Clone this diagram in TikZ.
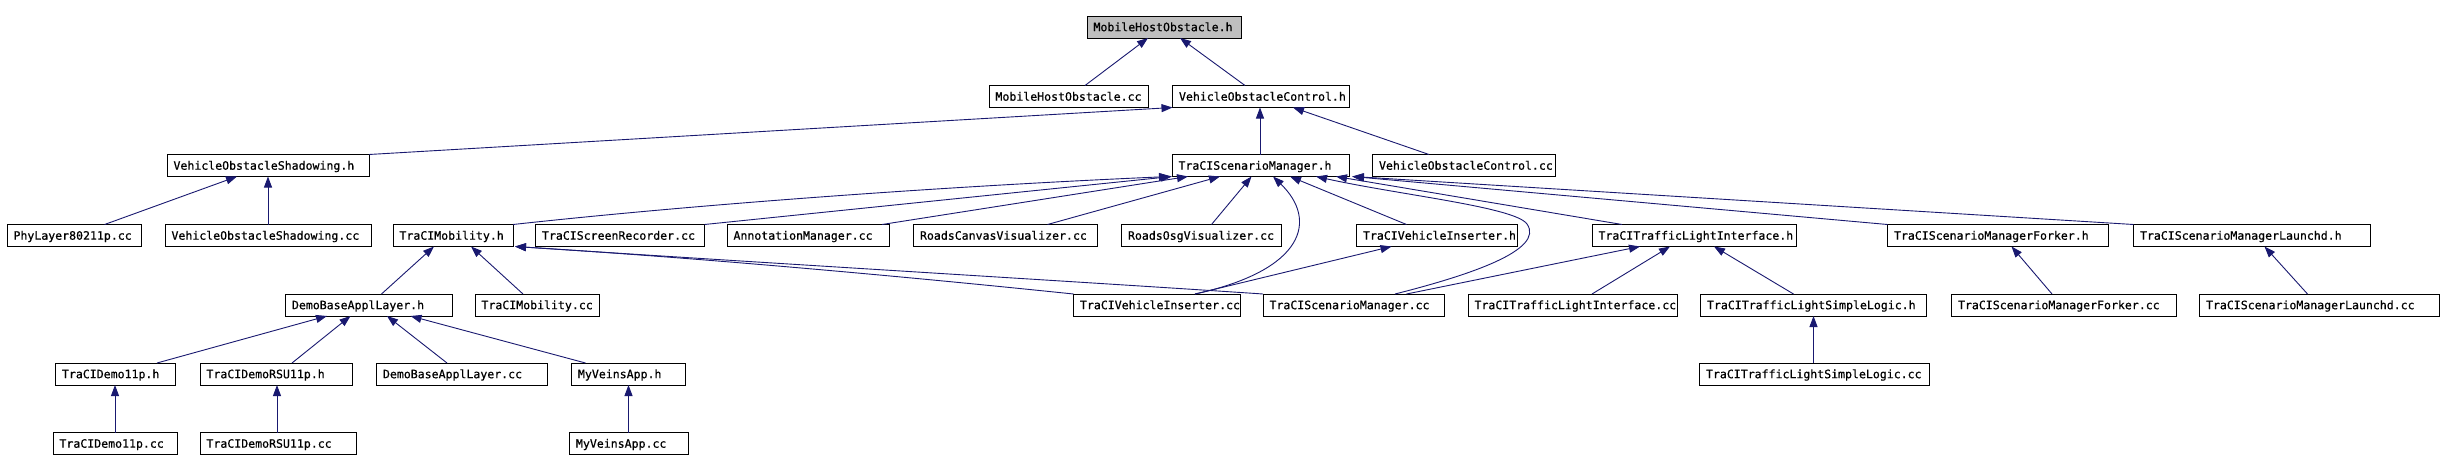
\documentclass[tikz,border=0pt]{standalone}
\usepackage{fontspec}
\newfontfamily\depfont[FakeBold=0.6]{DejaVu Sans Mono}
\usetikzlibrary{arrows.meta}
\definecolor{edgecol}{HTML}{191970}
\definecolor{rootfill}{HTML}{BFBFBF}
\tikzset{
 filebox/.style={draw=black, line width=1pt, rectangle, inner xsep=6.5pt, inner ysep=6.8pt, outer sep=0pt, text height=8.4pt, text depth=0pt, anchor=west, font=\depfont\fontsize{11.55pt}{13pt}\selectfont},
 dep/.style={draw=edgecol, line width=0.9pt, -{Triangle[length=11pt,width=8pt]}},
}
\newcommand\filenode[6][]{\node[filebox,#1] (#2) at (#3,#4) {\makebox[\dimexpr#5pt-13pt\relax][l]{#6}};}
\newcommand\depline[4]{\draw[dep] ([xshift=#2pt]#1.north west) -- ([xshift=#4pt]#3.south west);}
\begin{document}
\begin{tikzpicture}[x=1pt,y=-1pt]
\fill[white] (0,0) rectangle (2444,471);
\useasboundingbox (0,0) rectangle (2444,471);
% row 1
\filenode[fill=rootfill]{mhoh}{1087}{27}{154}{MobileHostObstacle.h}
% row 2
\filenode{mhocc}{989}{96.5}{159}{MobileHostObstacle.cc}
\filenode{voch}{1172.5}{96.5}{176.5}{VehicleObstacleControl.h}
% row 3
\filenode{vosh}{167}{165.5}{202}{VehicleObstacleShadowing.h}
\filenode{tsmh}{1172}{165.5}{177}{TraCIScenarioManager.h}
\filenode{voccc}{1372.5}{165.5}{183}{VehicleObstacleControl.cc}
% row 4
\filenode{phy}{7}{235.5}{134}{PhyLayer80211p.cc}
\filenode{voscc}{165}{235.5}{206}{VehicleObstacleShadowing.cc}
\filenode{tmh}{393}{235.5}{120}{TraCIMobility.h}
\filenode{tsr}{535.5}{235.5}{169}{TraCIScreenRecorder.cc}
\filenode{ann}{727}{235.5}{162}{AnnotationManager.cc}
\filenode{rcv}{913.5}{235.5}{183.5}{RoadsCanvasVisualizer.cc}
\filenode{rov}{1121.5}{235.5}{159.5}{RoadsOsgVisualizer.cc}
\filenode{tvih}{1356.5}{235.5}{160.5}{TraCIVehicleInserter.h}
\filenode{ttlih}{1592}{235.5}{204.5}{TraCITrafficLightInterface.h}
\filenode{forkh}{1887.5}{235.5}{220.5}{TraCIScenarioManagerForker.h}
\filenode{launh}{2133.5}{235.5}{236.5}{TraCIScenarioManagerLaunchd.h}
% row 5
\filenode{dbalh}{285.5}{305}{166.5}{DemoBaseApplLayer.h}
\filenode{tmcc}{475}{305}{124}{TraCIMobility.cc}
\filenode{tvicc}{1073.5}{305}{166.5}{TraCIVehicleInserter.cc}
\filenode{tsmcc}{1263}{305}{181}{TraCIScenarioManager.cc}
\filenode{ttlicc}{1468}{305}{209}{TraCITrafficLightInterface.cc}
\filenode{ttslh}{1700.5}{305}{226}{TraCITrafficLightSimpleLogic.h}
\filenode{forkcc}{1951.5}{305}{224.5}{TraCIScenarioManagerForker.cc}
\filenode{launcc}{2199.5}{305}{239.5}{TraCIScenarioManagerLaunchd.cc}
% row 6
\filenode{demoh}{55.5}{374}{119.5}{TraCIDemo11p.h}
\filenode{rsuh}{200}{374}{152}{TraCIDemoRSU11p.h}
\filenode{dbalcc}{376.5}{374}{170.5}{DemoBaseApplLayer.cc}
\filenode{mvah}{571.5}{374}{113.5}{MyVeinsApp.h}
\filenode{ttslcc}{1699.5}{374}{229.5}{TraCITrafficLightSimpleLogic.cc}
% row 7
\filenode{democc}{53}{443.5}{124}{TraCIDemo11p.cc}
\filenode{rsucc}{200}{443.5}{156}{TraCIDemoRSU11p.cc}
\filenode{mvacc}{569.5}{443.5}{118.5}{MyVeinsApp.cc}
% edges
\depline{mhocc}{96}{mhoh}{61}
\depline{voch}{72.5}{mhoh}{93}
\depline{vosh}{202}{voch}{0}
\depline{tsmh}{88}{voch}{87.5}
\depline{voccc}{56.5}{voch}{120.5}
\depline{phy}{97.6}{vosh}{70}
\depline{voscc}{103}{vosh}{101}
\draw[dep] (tmh.north east) .. controls (700,204) and (950,186) .. ([xshift=-2pt]tsmh.south west);
\depline{tsr}{169}{tsmh}{0}
\depline{ann}{155}{tsmh}{16}
\depline{rcv}{134}{tsmh}{48}
\depline{rov}{90}{tsmh}{79.5}
\draw[dep] ([xshift=121.5pt]tvicc.north west) .. controls (1305,270) and (1318,220) .. ([xshift=101pt]tsmh.south west);
\depline{tvih}{50}{tsmh}{118}
\draw[dep] ([xshift=132pt]tsmcc.north west) .. controls (1470,275) and (1545,250) .. (1527,224) .. controls (1515,207) and (1400,195) .. ([xshift=144pt]tsmh.south west);
\depline{ttlih}{30}{tsmh}{164}
\depline{forkh}{0}{tsmh}{180}
\depline{launh}{0}{tsmh}{181}
\depline{tmcc}{48}{tmh}{78}
\depline{dbalh}{96}{tmh}{41}
\draw[dep] (tvicc.north west) .. controls (900,276) and (700,258) .. ([xshift=2pt]tmh.south east);
\draw[dep] (tsmcc.north west) .. controls (1100,283) and (750,262) .. ([xshift=2pt]tmh.south east);
\depline{tvicc}{121.5}{tvih}{35}
\depline{tsmcc}{143.5}{ttlih}{48}
\depline{ttlicc}{124}{ttlih}{78}
\depline{ttslh}{93}{ttlih}{122}
\depline{forkcc}{100.5}{forkh}{124}
\depline{launcc}{108}{launh}{131}
\depline{ttslcc}{114}{ttslh}{113}
\depline{demoh}{101.5}{dbalh}{41.5}
\depline{rsuh}{92}{dbalh}{65}
\depline{dbalcc}{70.5}{dbalh}{101.5}
\depline{mvah}{14}{dbalh}{125}
\depline{democc}{62}{demoh}{59.5}
\depline{rsucc}{77}{rsuh}{77}
\depline{mvacc}{59}{mvah}{57}
\end{tikzpicture}
\end{document}
